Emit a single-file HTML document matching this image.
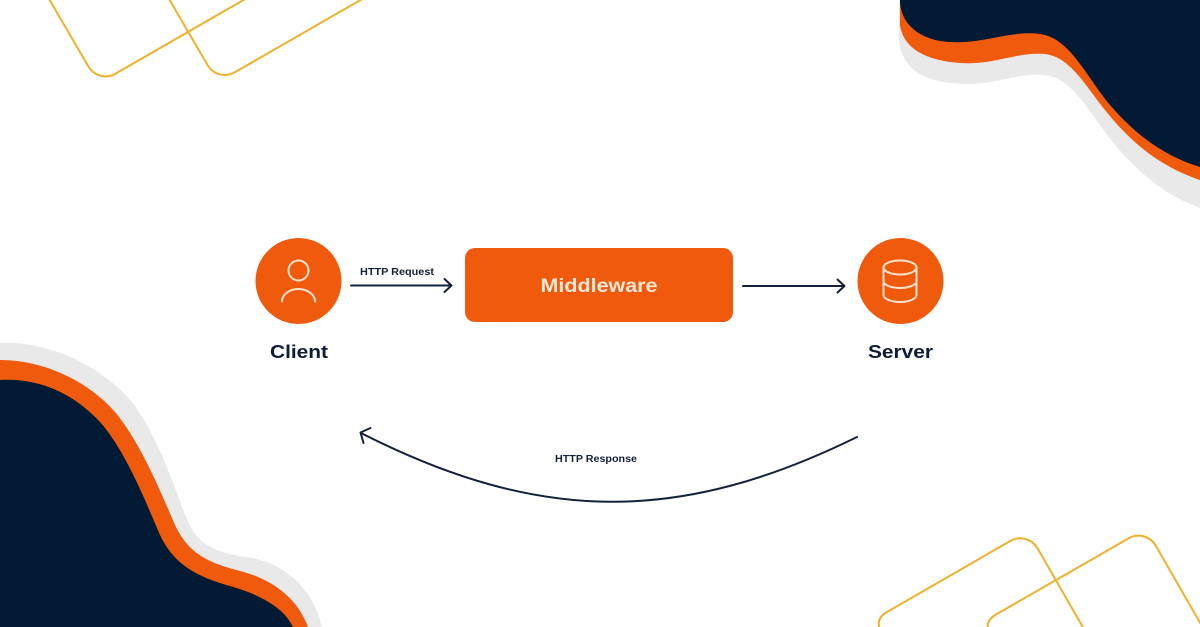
<!DOCTYPE html>
<html>
<head>
<meta charset="utf-8">
<style>
  html, body { margin: 0; padding: 0; background: #ffffff; }
  body { width: 1200px; height: 627px; overflow: hidden; }
  svg { display: block; }
  .lbl { font-family: "Liberation Sans", "DejaVu Sans", sans-serif; font-weight: bold; }
</style>
</head>
<body>
<svg width="1200" height="627" viewBox="0 0 1200 627" xmlns="http://www.w3.org/2000/svg">
  <rect x="0" y="0" width="1200" height="627" fill="#ffffff"/>

  <!-- Top-right blob -->
  <path d="M899,0 L899,40 C902,70 925,83 965,84 C1000,84 1020,72 1045,75 C1070,78 1085,105 1105,132 C1135,172 1165,195 1200,208 L1200,0 Z" fill="#e9e9e9"/>
  <path d="M900,0 L900,25 C903,45 920,60 960,63 C995,65 1015,52 1045,54 C1070,57 1085,85 1105,110 C1135,148 1165,168 1200,180 L1200,0 Z" fill="#f05a0c"/>
  <path d="M900,0 C900,20 915,40 950,42 C985,44 1010,30 1040,34 C1070,38 1085,75 1110,105 C1140,140 1170,158 1200,167 L1200,0 Z" fill="#021a33"/>

  <!-- Bottom-left blob -->
  <path d="M0,627 L0,343 C45,340 100,365 130,400 C155,430 172,480 187,520 C198,545 215,553 252,558 C290,565 315,595 322,627 Z" fill="#e9e9e9"/>
  <path d="M0,627 L0,360 C40,360 85,378 115,412 C140,442 160,490 175,525 C188,552 205,562 240,571 C275,580 298,600 308,627 Z" fill="#f05a0c"/>
  <path d="M0,627 L0,380 C35,378 70,390 100,422 C125,450 145,500 160,535 C172,560 190,575 230,586 C265,596 285,610 293,627 Z" fill="#021a33"/>

  <!-- Yellow outline shapes top-left -->
  <g fill="none" stroke="#efb02c" stroke-width="2" stroke-linecap="round">
    <path d="M38,-20 L88.25,66.3 A20,20 0 0 0 115.6,73.6 L280,-21"/>
    <path d="M158,-20 L207.5,65 A20,20 0 0 0 234.8,72.3 L397,-21"/>
  </g>
  <!-- Yellow outline shapes bottom-right -->
  <g fill="none" stroke="#efb02c" stroke-width="2" stroke-linecap="round">
    <path d="M1088,636 L1037.5,548.3 A20,20 0 0 0 1010.2,541 L887,612 Q874,619.5 881.5,632.5 L885,640"/>
    <path d="M1210,640 L1155.8,545.7 A20,20 0 0 0 1128.5,538.4 L996,614.5 Q983,622 990.5,635 L993,640"/>
  </g>

  <!-- Client node -->
  <circle cx="298.5" cy="281" r="43" fill="#f05a0c"/>
  <g fill="none" stroke="#fde2cc" stroke-width="2" stroke-linecap="round">
    <circle cx="298.5" cy="270.5" r="10"/>
    <path d="M282,301.5 A16.5,12.5 0 0 1 315,301.5"/>
  </g>
  <text class="lbl" x="299" y="358" font-size="18.5" fill="#0e1d36" text-anchor="middle" textLength="58" lengthAdjust="spacingAndGlyphs">Client</text>

  <!-- HTTP Request arrow -->
  <text class="lbl" x="397" y="275" font-size="10.5" fill="#14213d" text-anchor="middle" textLength="74" lengthAdjust="spacingAndGlyphs">HTTP Request</text>
  <g fill="none" stroke="#14213d" stroke-width="2" stroke-linecap="round" stroke-linejoin="round">
    <line x1="351" y1="285.5" x2="451" y2="285.5"/>
    <path d="M444.5,279 L451.5,285.5 L444.5,292"/>
  </g>

  <!-- Middleware box -->
  <rect x="465" y="248" width="268" height="74" rx="10" ry="10" fill="#f05a0c"/>
  <text class="lbl" x="599" y="292" font-size="19.5" fill="#fde8d8" text-anchor="middle" textLength="117" lengthAdjust="spacingAndGlyphs">Middleware</text>

  <!-- Arrow to server -->
  <g fill="none" stroke="#14213d" stroke-width="2" stroke-linecap="round" stroke-linejoin="round">
    <line x1="743" y1="286" x2="844" y2="286"/>
    <path d="M837.5,279.5 L844.5,286 L837.5,292.5"/>
  </g>

  <!-- Server node -->
  <circle cx="900.5" cy="281" r="43" fill="#f05a0c"/>
  <g fill="none" stroke="#fde2cc" stroke-width="2" stroke-linecap="round" stroke-linejoin="round">
    <ellipse cx="900" cy="267.5" rx="16.5" ry="7"/>
    <path d="M883.5,267.5 V295 A16.5,7 0 0 0 916.5,295 V267.5"/>
    <path d="M883.5,281 A16.5,7 0 0 0 916.5,281"/>
  </g>
  <text class="lbl" x="900.5" y="358" font-size="18.5" fill="#0e1d36" text-anchor="middle" textLength="65" lengthAdjust="spacingAndGlyphs">Server</text>

  <!-- HTTP Response curved arrow -->
  <g fill="none" stroke="#14213d" stroke-width="2" stroke-linecap="round" stroke-linejoin="round">
    <path d="M857,437 C680,524 540,524 361,433"/>
    <path d="M370.5,428 L360.5,432.5 L363.5,443"/>
  </g>
  <text class="lbl" x="596" y="462" font-size="10.5" fill="#14213d" text-anchor="middle" textLength="82" lengthAdjust="spacingAndGlyphs">HTTP Response</text>
</svg>
</body>
</html>
